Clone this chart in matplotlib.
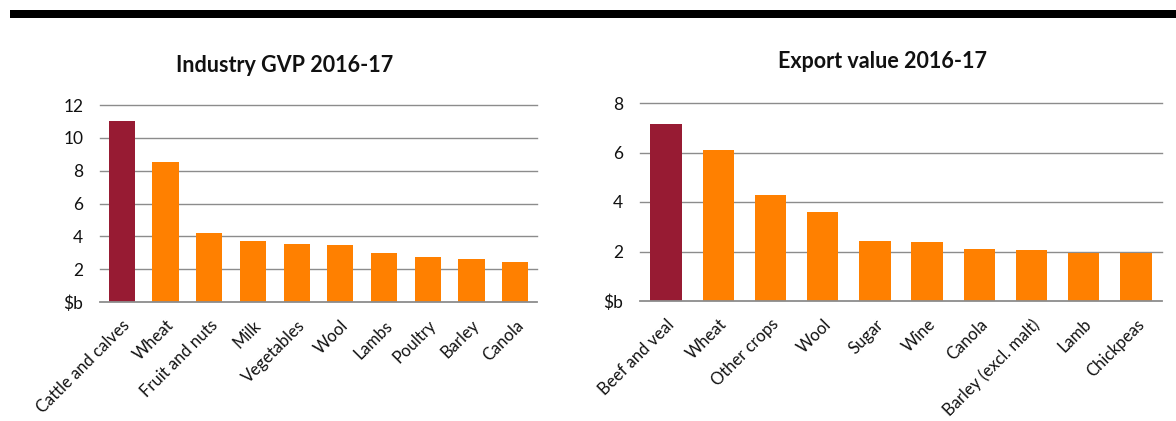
import matplotlib
matplotlib.use("Agg")
import matplotlib.pyplot as plt
from matplotlib.patches import Rectangle

plt.rcParams['font.family'] = ['Lato', 'DejaVu Sans']

gvp_categories = ["Cattle and calves", "Wheat", "Fruit and nuts", "Milk", "Vegetables",
                  "Wool", "Lambs", "Poultry", "Barley", "Canola"]
gvp_values = [11.0, 8.5, 4.2, 3.7, 3.55, 3.45, 3.0, 2.72, 2.62, 2.44]

exp_categories = ["Beef and veal", "Wheat", "Other crops", "Wool", "Sugar", "Wine",
                  "Canola", "Barley (excl. malt)", "Lamb", "Chickpeas"]
exp_values = [7.14, 6.09, 4.27, 3.6, 2.42, 2.37, 2.12, 2.08, 1.94, 1.92]

gvp_ticks = [0, 2, 4, 6, 8, 10, 12]
gvp_ticklabels = ["$b", "2", "4", "6", "8", "10", "12"]
exp_ticks = [0, 2, 4, 6, 8]
exp_ticklabels = ["$b", "2", "4", "6", "8"]

titles = ["Industry GVP 2016-17", "Export value 2016-17"]

DARK = "#971B33"
ORANGE = "#FF8000"
GRID = "#8C8C8C"
TXT = "#111111"

W, H = 1176, 421
fig = plt.figure(figsize=(W / 100, H / 100), dpi=100)

# top black rule
fig.add_artist(Rectangle((10 / W, 1 - 18 / H), 1 - 10 / W, 8 / H,
                         transform=fig.transFigure, color="black", lw=0))


def make(ax, cats, vals, ticks, ticklabels, ymax):
    colors = [DARK] + [ORANGE] * (len(vals) - 1)
    ax.bar(range(len(vals)), vals, width=0.6, color=colors, zorder=2)
    ax.set_xlim(-0.5, len(vals) - 0.5)
    ax.set_ylim(0, ymax)
    ax.set_yticks(ticks)
    ax.set_yticklabels(ticklabels, fontsize=12.5, color=TXT)
    ax.set_xticks(range(len(cats)))
    ax.set_xticklabels(cats, rotation=45, ha="right", rotation_mode="anchor",
                       fontsize=12, color=TXT)
    ax.tick_params(axis="both", length=0)
    ax.tick_params(axis="y", pad=12)
    ax.tick_params(axis="x", pad=11)
    for t in ticks[1:]:
        ax.axhline(t, color=GRID, lw=1.0, zorder=1, clip_on=False)
    ax.axhline(0, color=GRID, lw=1.3, zorder=3, clip_on=False)
    for s in ax.spines.values():
        s.set_visible(False)


ax1 = fig.add_axes([100 / W, 1 - 302 / H, 437 / W, 197 / H])
make(ax1, gvp_categories, gvp_values, gvp_ticks, gvp_ticklabels, 12)

ax2 = fig.add_axes([640 / W, 1 - 301 / H, 522 / W, 198 / H])
make(ax2, exp_categories, exp_values, exp_ticks, exp_ticklabels, 8)

fig.text(285 / W, 1 - 65 / H, titles[0], ha="center", va="center",
         fontsize=15.5, fontweight="bold", color=TXT)
fig.text(883 / W, 1 - 62 / H, titles[1], ha="center", va="center",
         fontsize=15.5, fontweight="bold", color=TXT)

fig.savefig("out.png", dpi=100)
